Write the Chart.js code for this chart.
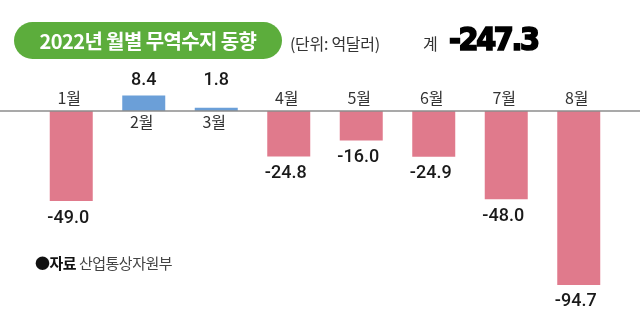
<!DOCTYPE html>
<html>
<head>
<meta charset="utf-8">
<script src="https://cdn.jsdelivr.net/npm/chart.js@4"></script>
<style>
  html, body { margin: 0; padding: 0; background: #fff; }
  #wrap { position: relative; width: 640px; height: 328px; overflow: hidden; }
  #wrap canvas { position: absolute; left: 0; top: 0; }
  .txt { position: absolute; white-space: nowrap; font-family: "Noto Sans CJK KR", "Noto Sans", sans-serif; }
  #title {
    left: 14px; top: 22px; width: 268px; height: 37px; line-height: 37px;
    border-radius: 19px; background: #5cad3c; color: #fff; text-align: center;
    font-size: 20px; font-weight: 700; letter-spacing: -0.6px;
  }
  #unit { left: 290px; top: 31px; font-size: 16px; color: #333; letter-spacing: -0.3px; }
  #sumLabel { left: 423px; top: 31px; font-size: 16px; color: #333; }
  #sumValue {
    left: 449px; top: 20px; font-family: "DejaVu Sans Condensed", "DejaVu Sans", sans-serif;
    font-size: 32px; font-weight: 700; color: #000; letter-spacing: -2.4px;
    -webkit-text-stroke: 1.6px #000;
  }
  #source { left: 35px; top: 252px; font-size: 15px; color: #444; letter-spacing: -0.5px; }
  #source b { color: #111; }
</style>
</head>
<body>
<div id="wrap">
  <canvas id="tradeChart"></canvas>
  <div class="txt" id="title">2022년 월별 무역수지 동향</div>
  <div class="txt" id="unit">(단위: 억달러)</div>
  <div class="txt" id="sumLabel">계</div>
  <div class="txt" id="sumValue">-247.3</div>
  <div class="txt" id="source"><b>●자료</b> 산업통상자원부</div>
</div>
<script>
const months = ["1월", "2월", "3월", "4월", "5월", "6월", "7월", "8월"];
const balance = [-49.0, 8.4, 1.8, -24.8, -16.0, -24.9, -48.0, -94.7];
const valueLabels = ["-49.0", "8.4", "1.8", "-24.8", "-16.0", "-24.9", "-48.0", "-94.7"];

const pink = "#e07a8c";
const blue = "#6b9fd8";

// labels + the zero line that runs across the whole picture
const labelPlugin = {
  id: "labels",
  afterDatasetsDraw(chart) {
    const ctx = chart.ctx;
    const y = chart.scales.y;
    const meta = chart.getDatasetMeta(0);
    const zero = y.getPixelForValue(0);
    const topPos = y.getPixelForValue(Math.max(...balance));

    ctx.save();
    ctx.strokeStyle = "#8c8c8c";
    ctx.lineWidth = 1.5;
    ctx.beginPath();
    ctx.moveTo(0, zero);
    ctx.lineTo(chart.width, zero);
    ctx.stroke();

    ctx.textAlign = "center";
    ctx.textBaseline = "middle";
    meta.data.forEach((bar, i) => {
      const v = balance[i];
      // month name sits on the other side of the line
      ctx.font = "16px 'Noto Sans CJK KR', sans-serif";
      ctx.fillStyle = "#333";
      ctx.fillText(months[i], bar.x - 2, v < 0 ? zero - 13 : zero + 11);

      ctx.font = "500 18px Roboto, sans-serif";
      ctx.fillStyle = "#1a1a1a";
      if (v < 0) {
        ctx.fillText(valueLabels[i], bar.x - 3, bar.y + 17);
      } else {
        ctx.fillText(valueLabels[i], bar.x, topPos - 15);
      }
    });
    ctx.restore();
  }
};

new Chart(document.getElementById("tradeChart"), {
  type: "bar",
  data: {
    labels: months,
    datasets: [
      {
        data: balance,
        backgroundColor: balance.map((v) => (v < 0 ? pink : blue)),
        barPercentage: 0.593,
        categoryPercentage: 1
      }
    ]
  },
  options: {
    responsive: true,
    maintainAspectRatio: false,
    animation: false,
    events: [],
    layout: { padding: { left: 35, right: 25, top: 74.3, bottom: 33.3 } },
    plugins: { legend: { display: false }, tooltip: { enabled: false } },
    scales: {
      x: { display: false },
      y: { display: false, min: -100, max: 20 }
    }
  },
  plugins: [labelPlugin]
});
</script>
</body>
</html>
